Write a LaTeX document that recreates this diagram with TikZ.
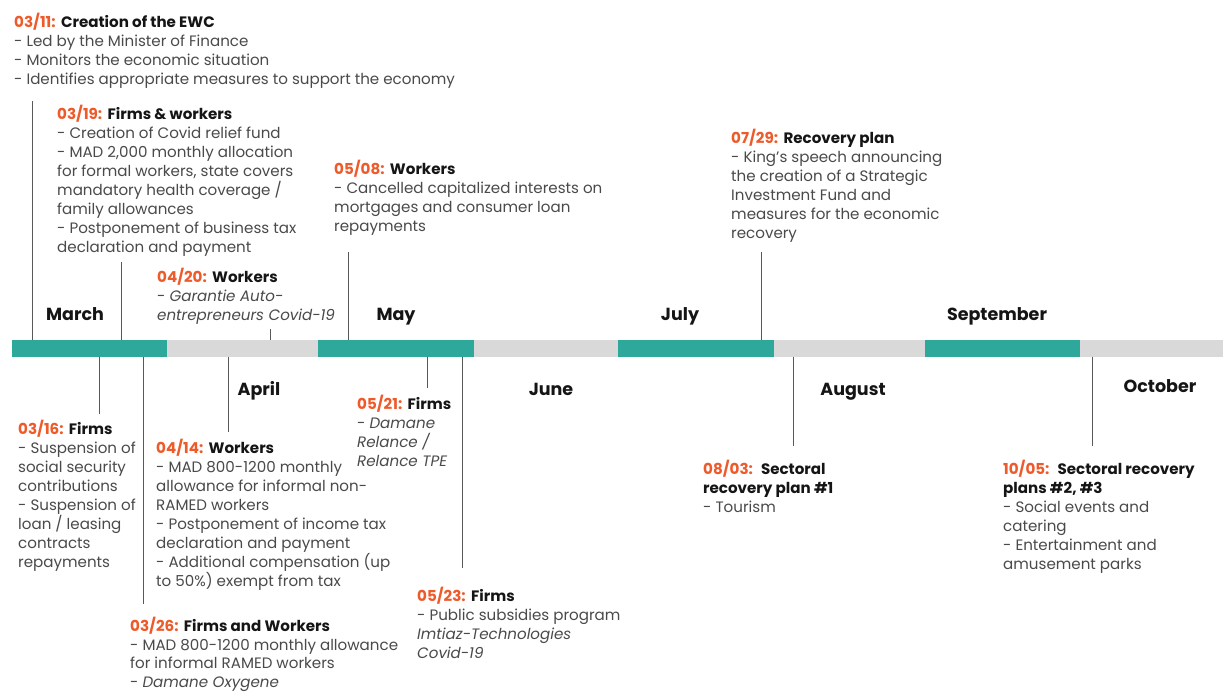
\documentclass[tikz,border=0pt]{standalone}
\usepackage{fontspec}
\setmainfont{Poppins}
\definecolor{acc}{HTML}{EE5A2A}
\definecolor{tealbar}{HTML}{2EA89B}
\definecolor{graybar}{HTML}{D9D9D9}
\definecolor{conn}{HTML}{595959}
\definecolor{body}{HTML}{4A4A4A}
\definecolor{ttl}{HTML}{151515}
\begin{document}
\begin{tikzpicture}[x=1pt,y=-1pt,
  seg/.style={rectangle,inner sep=0pt,minimum height=17pt,anchor=west},
  tseg/.style={seg,fill=tealbar},
  gseg/.style={seg,fill=graybar},
  month/.style={font=\fontsize{17.5}{20}\selectfont\bfseries,text=ttl,inner sep=0pt,anchor=base},
  evt/.style={anchor=north west,align=left,inner sep=0pt,text=body,font=\fontsize{15.1}{19}\selectfont},
  tick/.style={draw=conn,line width=0.9pt}]
\useasboundingbox[fill=white] (0,0) rectangle (1223,691);
\newcommand{\dt}[1]{\textcolor{acc}{\bfseries #1}}
\newcommand{\hd}[1]{\textcolor{ttl}{\bfseries #1}}
% bar
\node[tseg,minimum width=155pt] (mar) at (12,348.5) {};
\node[gseg,minimum width=151pt] (apr) at (167,348.5) {};
\node[tseg,minimum width=156pt] (may) at (318,348.5) {};
\node[gseg,minimum width=144pt] (jun) at (474,348.5) {};
\node[tseg,minimum width=156pt] (jul) at (618,348.5) {};
\node[gseg,minimum width=151pt] (aug) at (774,348.5) {};
\node[tseg,minimum width=155pt] (sep) at (925,348.5) {};
\node[gseg,minimum width=143pt] (oct) at (1080,348.5) {};
% months
\node[month] (mMar) at (75,320) {March};
\node[month] (mMay) at (396,320) {May};
\node[month] (mJul) at (680,320) {July};
\node[month] (mSep) at (997,320) {September};
\node[month] (mApr) at (259,395) {April};
\node[month] (mJun) at (551,395) {June};
\node[month] (mAug) at (853,395) {August};
\node[month] (mOct) at (1160,392) {October};
% events above
\node[evt] (e0311) at (14,13) {\dt{03/11:} \hd{Creation of the EWC}\\- Led by the Minister of Finance\\- Monitors the economic situation\\- Identifies appropriate measures to support the economy};
\node[evt] (e0319) at (57,105) {\dt{03/19:} \hd{Firms \& workers}\\- Creation of Covid relief fund\\- MAD 2,000 monthly allocation\\for formal workers, state covers\\mandatory health coverage /\\family allowances\\- Postponement of business tax\\declaration and payment};
\node[evt] (e0508) at (334,160) {\dt{05/08:} \hd{Workers}\\- Cancelled capitalized interests on\\mortgages and consumer loan\\repayments};
\node[evt] (e0420) at (157,268) {\dt{04/20:} \hd{Workers}\\- \textit{Garantie Auto-}\\\textit{entrepreneurs Covid-19}};
\node[evt] (e0729) at (731,129) {\dt{07/29:} \hd{Recovery plan}\\- King’s speech announcing\\the creation of a Strategic\\Investment Fund and\\measures for the economic\\recovery};
% events below
\node[evt] (e0316) at (18,420) {\dt{03/16:} \hd{Firms}\\- Suspension of\\social security\\contributions\\- Suspension of\\loan / leasing\\contracts\\repayments};
\node[evt] (e0414) at (156,439) {\dt{04/14:} \hd{Workers}\\- MAD 800-1200 monthly\\allowance for informal non-\\RAMED workers\\- Postponement of income tax\\declaration and payment\\- Additional compensation (up\\to 50\%) exempt from tax};
\node[evt] (e0521) at (357,395) {\dt{05/21:} \hd{Firms}\\- \textit{Damane}\\\textit{Relance /}\\\textit{Relance TPE}};
\node[evt] (e0523) at (417,587) {\dt{05/23:} \hd{Firms}\\- Public subsidies program\\\textit{Imtiaz-Technologies}\\\textit{Covid-19}};
\node[evt,font=\fontsize{15.1}{18.6}\selectfont] (e0326) at (130,617) {\dt{03/26:} \hd{Firms and Workers}\\- MAD 800-1200 monthly allowance\\for informal RAMED workers\\- \textit{Damane Oxygene}};
\node[evt] (e0803) at (703,460) {\dt{08/03:}\ \ \hd{Sectoral}\\\hd{recovery plan \#1}\\- Tourism};
\node[evt] (e1005) at (1003,460) {\dt{10/05:}\ \ \hd{Sectoral recovery}\\\hd{plans \#2, \#3}\\- Social events and\\catering\\- Entertainment and\\amusement parks};
% tick ends
\coordinate (t0311) at (32,101);
\coordinate (t0319) at (121,262);
\coordinate (t0420) at (270,329);
\coordinate (t0508) at (348,252);
\coordinate (t0729) at (761,252);
\coordinate (t0316) at (99,414);
\coordinate (t0326) at (143,604);
\coordinate (t0414) at (228,432);
\coordinate (t0521) at (427,388);
\coordinate (t0523) at (462,568);
\coordinate (t0803) at (793,446);
\coordinate (t1005) at (1092,446);
\draw[tick] (t0311) -- (t0311 |- mar.north);
\draw[tick] (t0319) -- (t0319 |- mar.north);
\draw[tick] (t0420) -- (t0420 |- apr.north);
\draw[tick] (t0508) -- (t0508 |- may.north);
\draw[tick] (t0729) -- (t0729 |- jul.north);
\draw[tick] (t0316) -- (t0316 |- mar.south);
\draw[tick] (t0326) -- (t0326 |- mar.south);
\draw[tick] (t0414) -- (t0414 |- apr.south);
\draw[tick] (t0521) -- (t0521 |- may.south);
\draw[tick] (t0523) -- (t0523 |- may.south);
\draw[tick] (t0803) -- (t0803 |- aug.south);
\draw[tick] (t1005) -- (t1005 |- oct.south);
\end{tikzpicture}
\end{document}
